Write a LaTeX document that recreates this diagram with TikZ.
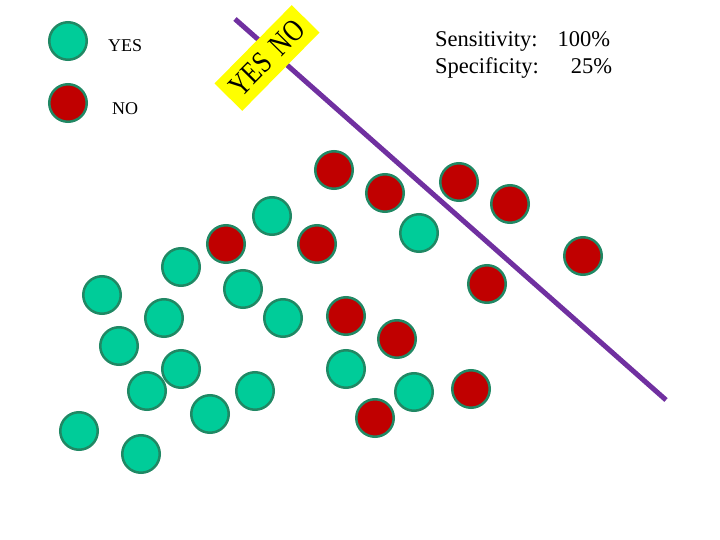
\documentclass[tikz,border=0pt]{standalone}
\usepackage{fontspec}
\setmainfont{Liberation Serif}
\definecolor{tealfill}{RGB}{0,204,153}
\definecolor{ringcol}{RGB}{32,136,100}
\definecolor{redfill}{RGB}{192,0,0}
\definecolor{linecol}{RGB}{112,48,160}
\definecolor{labelyellow}{RGB}{255,255,0}
\tikzset{
  yesdot/.style={circle,fill=tealfill,draw=ringcol,line width=2.5pt,minimum size=37.5pt,inner sep=0pt},
  nodot/.style={circle,fill=redfill,draw=ringcol,line width=2.5pt,minimum size=37.5pt,inner sep=0pt},
  legendtext/.style={anchor=base west,font=\fontsize{18}{20}\selectfont,inner sep=0pt},
  stattext/.style={anchor=base west,font=\fontsize{22.5}{26}\selectfont,inner sep=0pt},
  dividerline/.style={draw=linecol,line width=5pt},
  tag/.style={fill=labelyellow,minimum width=110pt,minimum height=39pt,inner sep=0pt,font=\fontsize{31}{33}\selectfont}
}
\begin{document}
\begin{tikzpicture}[x=1pt,y=-1pt]
\useasboundingbox (0,0) rectangle (720,540);
% legend
\node[yesdot] (ly) at (68,41) {};
\node[nodot] (ln) at (68,103) {};
\node[legendtext] (lyt) at (108,52) {YES};
\node[legendtext] (lnt) at (112,115) {NO};
% statistics
\node[stattext] (sens) at (435,47) {Sensitivity:\hspace{20pt}100\%};
\node[stattext] (spec) at (435,74) {Specificity:\hspace{32pt}25\%};
% dividing line
\coordinate (l1) at (235,19);
\coordinate (l2) at (666,400);
\draw[dividerline] (l1) -- (l2);
% tag
\node[tag,rotate=45.4] (tg) at (267,58) {\scalebox{0.8}[1]{YES\hspace{0.45em}NO}};
% yes dots
\node[yesdot] (y1) at (272,216) {};
\node[yesdot] (y2) at (419,233) {};
\node[yesdot] (y3) at (181,267) {};
\node[yesdot] (y4) at (243,289) {};
\node[yesdot] (y5) at (102,295) {};
\node[yesdot] (y6) at (164,318) {};
\node[yesdot] (y7) at (283,318) {};
\node[yesdot] (y8) at (119,346) {};
\node[yesdot] (y9) at (181,369) {};
\node[yesdot] (y10) at (147,391) {};
\node[yesdot] (y11) at (255,391) {};
\node[yesdot] (y12) at (346,369) {};
\node[yesdot] (y13) at (414,392) {};
\node[yesdot] (y14) at (210,414) {};
\node[yesdot] (y15) at (79,431) {};
\node[yesdot] (y16) at (141,454) {};
% no dots
\node[nodot] (n1) at (334,170) {};
\node[nodot] (n2) at (385,193) {};
\node[nodot] (n3) at (459,182) {};
\node[nodot] (n4) at (510,204) {};
\node[nodot] (n5) at (226,244) {};
\node[nodot] (n6) at (317,244) {};
\node[nodot] (n7) at (583,256) {};
\node[nodot] (n8) at (487,284) {};
\node[nodot] (n9) at (346,316) {};
\node[nodot] (n10) at (397,339) {};
\node[nodot] (n11) at (471,389) {};
\node[nodot] (n12) at (375,418) {};
\end{tikzpicture}
\end{document}
